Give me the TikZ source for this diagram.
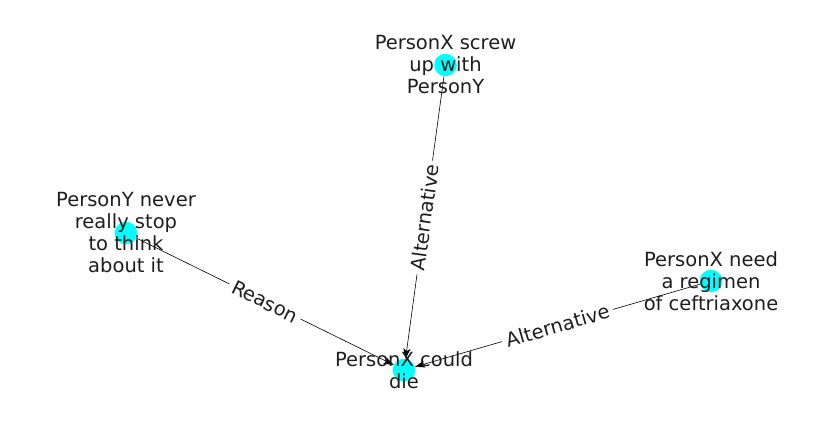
\documentclass[tikz,border=0pt]{standalone}
\usepackage{fontspec}
\setmainfont{DejaVu Sans}
\usetikzlibrary{arrows.meta}

\definecolor{nodecyan}{RGB}{0,255,255}
\definecolor{textgray}{RGB}{30,30,30}

\tikzset{
	vertex/.style={circle,fill=nodecyan,inner sep=0pt,minimum size=22.6pt},
	caption/.style={align=center,text=textgray,font=\fontsize{19.5}{22}\selectfont},
	rel/.style={-{Stealth[length=10pt,width=7pt,inset=2.5pt]},black,line width=0.6pt},
	rellabel/.style={midway,sloped,fill=white,inner sep=4pt,text=textgray,font=\fontsize{19.5}{22}\selectfont}
}

\begin{document}
\begin{tikzpicture}[x=1pt,y=1pt]
	\useasboundingbox (0,0) rectangle (837,434);
	
	\node[vertex] (die) at (404,64) {};
	\node[vertex] (screw) at (445.5,369) {};
	\node[vertex] (think) at (126,201) {};
	\node[vertex] (ceft) at (711,153) {};
	
	\draw[rel] (think) -- (die) node[rellabel] {Reason};
	\draw[rel] (screw) -- (die) node[rellabel] {Alternative};
	\draw[rel] (ceft) -- (die) node[rellabel] {Alternative};
	
	\node[caption] (dietext) at (die) {PersonX could\\die};
	\node[caption] (screwtext) at (screw) {PersonX screw\\up with\\PersonY};
	\node[caption] (thinktext) at (think) {PersonY never\\really stop\\to think\\about it};
	\node[caption] (cefttext) at (ceft) {PersonX need\\a regimen\\of ceftriaxone};
	
\end{tikzpicture}
\end{document}
